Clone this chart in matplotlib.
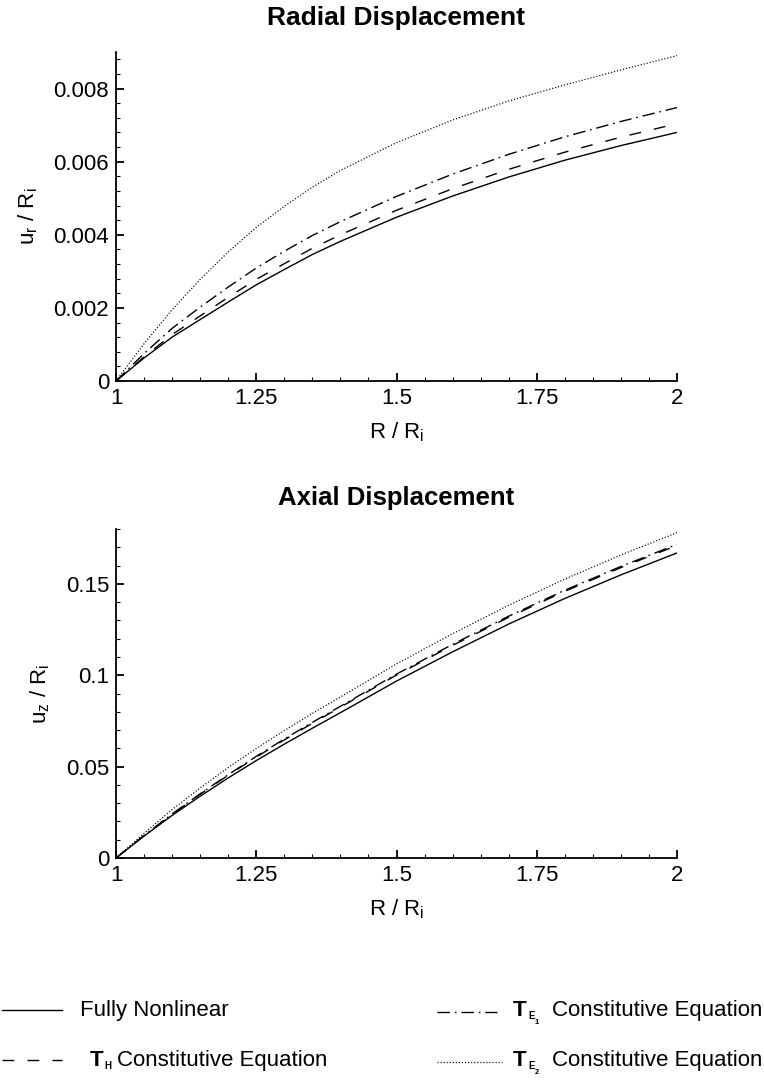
import matplotlib
matplotlib.use('Agg')
import matplotlib.pyplot as plt
from matplotlib.lines import Line2D
from matplotlib.ticker import MultipleLocator, FormatStrFormatter

plt.rcParams['font.family'] = ['Liberation Sans', 'DejaVu Sans']
plt.rcParams['mathtext.fontset'] = 'custom'
plt.rcParams['mathtext.rm'] = 'Liberation Sans'
plt.rcParams['mathtext.it'] = 'Liberation Sans'
plt.rcParams['mathtext.bf'] = 'Liberation Sans:bold'
plt.rcParams['lines.scale_dashes'] = False

# R / Ri sample positions
r_vals = [1.0, 1.05, 1.1, 1.15, 1.2, 1.25, 1.3, 1.35, 1.4, 1.5, 1.6, 1.7, 1.8, 1.9, 2.0]

# radial displacement u_r / Ri
radial_full = [0, 0.00063, 0.00120, 0.00168, 0.00216, 0.00263, 0.00305, 0.00346,
               0.00382, 0.00448, 0.00506, 0.00558, 0.00604, 0.00644, 0.00680]
radial_th = [0, 0.00066, 0.00127, 0.00178, 0.00229, 0.00278, 0.00321, 0.00363,
             0.00400, 0.00467, 0.00526, 0.00579, 0.00626, 0.00667, 0.00704]
radial_te1 = [0, 0.00075, 0.00144, 0.00202, 0.00257, 0.00309, 0.00355, 0.00398,
              0.00436, 0.00505, 0.00566, 0.00620, 0.00668, 0.00710, 0.00748]
radial_te2 = [0, 0.00102, 0.00195, 0.00278, 0.00353, 0.00420, 0.00478, 0.00530,
              0.00576, 0.00652, 0.00714, 0.00766, 0.00810, 0.00851, 0.00890]

# axial displacement u_z / Ri
axial_full = [0, 0.0120, 0.0233, 0.0338, 0.0438, 0.0533, 0.0623, 0.0710,
              0.0795, 0.0968, 0.1128, 0.1280, 0.1420, 0.1549, 0.1669]
axial_th = [0, 0.0122, 0.0239, 0.0349, 0.0453, 0.0552, 0.0646, 0.0737,
            0.0825, 0.1001, 0.1163, 0.1317, 0.1459, 0.1589, 0.1710]
axial_te1 = [0, 0.0123, 0.0241, 0.0351, 0.0456, 0.0556, 0.0651, 0.0742,
             0.0830, 0.1006, 0.1169, 0.1323, 0.1465, 0.1595, 0.1716]
axial_te2 = [0, 0.0135, 0.0265, 0.0383, 0.0495, 0.0599, 0.0697, 0.0791,
             0.0881, 0.1062, 0.1227, 0.1383, 0.1526, 0.1658, 0.1780]

x_ticks = [1, 1.25, 1.5, 1.75, 2]
x_ticklabels = ['1', '1.25', '1.5', '1.75', '2']

styles = {
    'full': dict(color='black', lw=1.0, linestyle='-'),
    'th': dict(color='black', lw=1.0, linestyle=(0, (8.5, 9.5))),
    'te1': dict(color='black', lw=1.0, linestyle=(0, (9.0, 3.5, 1.2, 3.5))),
    'te2': dict(color='black', lw=0.9, linestyle=(0, (0.8, 1.4))),
}

W, H = 764, 1083
fs = 16

fig = plt.figure(figsize=(W / 100, H / 100), dpi=100)
ax1 = fig.add_axes([116 / W, 1 - 381 / H, 561 / W, 329 / H])
ax2 = fig.add_axes([116 / W, 1 - 858 / H, 561 / W, 329 / H])


def style_axes(ax, ymax, ymajor, yminor, ylabel):
    ax.set_xlim(1, 2)
    ax.set_ylim(0, ymax)
    ax.spines['top'].set_visible(False)
    ax.spines['right'].set_visible(False)
    ax.spines['left'].set_linewidth(1.3)
    ax.spines['bottom'].set_linewidth(1.3)
    ax.set_xticks(x_ticks)
    ax.set_xticklabels(x_ticklabels)
    ax.xaxis.set_minor_locator(MultipleLocator(0.05))
    ax.yaxis.set_major_locator(MultipleLocator(ymajor))
    ax.yaxis.set_minor_locator(MultipleLocator(yminor))
    ax.yaxis.set_major_formatter(FormatStrFormatter('%g'))
    ax.tick_params(which='major', direction='in', length=6, width=1.3, labelsize=fs)
    ax.tick_params(which='minor', direction='in', length=3, width=0.8)
    ax.tick_params(axis='x', which='major', pad=5)
    ax.tick_params(axis='y', which='major', pad=5)
    ax.set_xlabel(r'R / R$_\mathregular{i}$', fontsize=fs, labelpad=8)
    ax.set_ylabel(ylabel, fontsize=fs, labelpad=10)


ax1.plot(r_vals, radial_full, **styles['full'])
ax1.plot(r_vals, radial_th, **styles['th'])
ax1.plot(r_vals, radial_te1, **styles['te1'])
ax1.plot(r_vals, radial_te2, **styles['te2'])
style_axes(ax1, 0.009, 0.002, 0.0004, r'u$_\mathregular{r}$ / R$_\mathregular{i}$')

ax2.plot(r_vals, axial_full, **styles['full'])
ax2.plot(r_vals, axial_th, **styles['th'])
ax2.plot(r_vals, axial_te1, **styles['te1'])
ax2.plot(r_vals, axial_te2, **styles['te2'])
style_axes(ax2, 0.18, 0.05, 0.01, r'u$_\mathregular{z}$ / R$_\mathregular{i}$')

fig.text(396 / W, 1 - 18 / H, 'Radial Displacement', ha='center', va='center',
         fontsize=19, fontweight='bold')
fig.text(396 / W, 1 - 498 / H, 'Axial Displacement', ha='center', va='center',
         fontsize=18.5, fontweight='bold')


def put(x, y, s, size, weight='normal'):
    # x, y in pixels from the top left, y is the text baseline
    fig.text(x / W, 1 - y / H, s, ha='left', va='baseline', fontsize=size,
             fontweight=weight)


# legend drawn at the bottom of the page
row1, row2 = 1016, 1066
legend_lines = [
    ('full', 2, 62, row1 - 6),
    ('th', 2, 62, row2 - 6),
    ('te1', 437, 497, row1 - 4),
    ('te2', 437, 502, row2 - 4),
]
for key, x0, x1, y in legend_lines:
    fig.add_artist(Line2D([x0 / W, x1 / W], [1 - y / H, 1 - y / H],
                          transform=fig.transFigure, **styles[key]))

put(80, row1, 'Fully Nonlinear', fs)
put(90, row2, 'T', fs, 'bold')
put(104, row2 + 3, 'H', 7, 'bold')
put(117, row2, 'Constitutive Equation', fs)
put(513, row1, 'T', fs, 'bold')
put(528, row1 + 3, 'E', 7, 'bold')
put(535, row1 + 8, '1', 5.5, 'bold')
put(552, row1, 'Constitutive Equation', fs)
put(513, row2, 'T', fs, 'bold')
put(528, row2 + 3, 'E', 7, 'bold')
put(535, row2 + 8, '2', 5.5, 'bold')
put(552, row2, 'Constitutive Equation', fs)

fig.savefig('out.png', dpi=100)
